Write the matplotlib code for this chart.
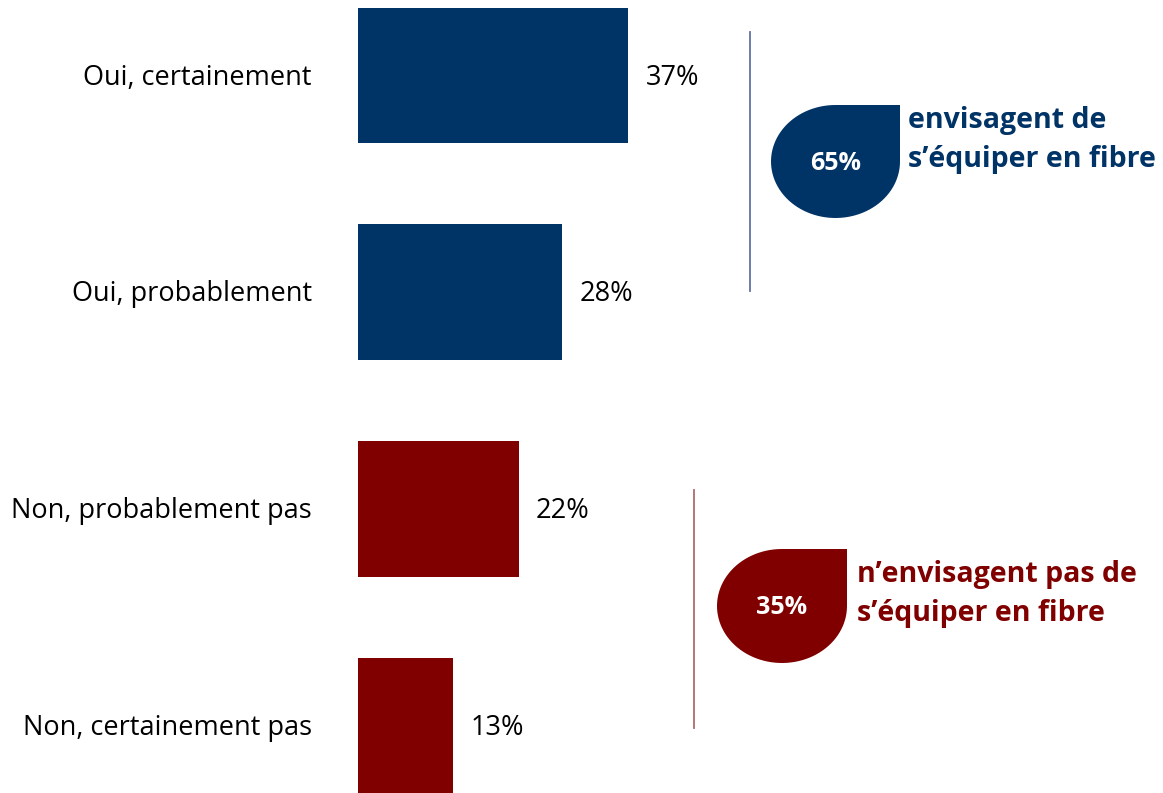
import matplotlib
matplotlib.use("Agg")
import matplotlib.pyplot as plt
import numpy as np
from matplotlib.patches import Polygon

plt.rcParams["font.family"] = ["Open Sans", "DejaVu Sans"]

# Data
categories = ["Oui, certainement", "Oui, probablement", "Non, probablement pas", "Non, certainement pas"]
values = [37, 28, 22, 13]
bar_colors = ["#003366", "#003366", "#800000", "#800000"]

group_pcts = ["65%", "35%"]
group_texts = ["envisagent de\ns\u2019\u00e9quiper en fibre", "n\u2019envisagent pas de\ns\u2019\u00e9quiper en fibre"]
group_colors = ["#003366", "#800000"]

W, H = 1163, 793
fig = plt.figure(figsize=(W / 100, H / 100), dpi=100)
ax = fig.add_axes([0, 0, 1, 1])

# x=0 at pixel 358, 7.3 px per percent; rows 216.7 px apart, first centre at 75.5 px
px_per_pct = 7.3
row_px = 216.7
ax.set_xlim(-358 / px_per_pct, (W - 358) / px_per_pct)
ax.set_ylim((H - 75.5) / row_px, -75.5 / row_px)
ax.axis("off")

ypos = np.arange(len(categories))
ax.barh(ypos, values, height=0.625, color=bar_colors)

for y, v, c in zip(ypos, values, categories):
    ax.text(v + 2.4, y + 0.01, f"{v}%", va="center", ha="left", fontsize=19.5, color="black")
    ax.text(-46 / px_per_pct, y + 0.01, c, va="center", ha="right", fontsize=19.5, color="black")


def fx(px):
    return px / W


def fy(py):
    return 1 - py / H


# bracket lines (pixel positions)
ax.plot([fx(750), fx(750)], [fy(32), fy(291)], transform=fig.transFigure, color="#5f73a3", lw=1.3)
ax.plot([fx(694), fx(694)], [fy(490), fy(728)], transform=fig.transFigure, color="#b06a6a", lw=1.3)


def teardrop(cx, cy, rx, ry, color):
    t = np.linspace(np.pi / 2, 2 * np.pi, 80)
    xs = cx + rx * np.cos(t)
    ys = cy - ry * np.sin(t)
    pts = [(fx(x), fy(y)) for x, y in zip(xs, ys)]
    pts.append((fx(cx + rx), fy(cy - ry)))
    fig.patches.append(Polygon(pts, closed=True, transform=fig.transFigure, facecolor=color, edgecolor="none"))


drops = [(835.5, 161.5, 64.5, 56.5), (782, 606, 65, 57)]
text_pos = [(908, 140), (857, 594)]
for (cx, cy, rx, ry), pct, txt, col, (tx, ty) in zip(drops, group_pcts, group_texts, group_colors, text_pos):
    teardrop(cx, cy, rx, ry, col)
    fig.text(fx(cx), fy(cy + 2), pct, ha="center", va="center", color="white", fontsize=18, fontweight="bold")
    fig.text(fx(tx), fy(ty), txt, ha="left", va="center", color=col, fontsize=20.5, fontweight="bold",
             linespacing=1.45)

fig.savefig("out.png", dpi=100)
